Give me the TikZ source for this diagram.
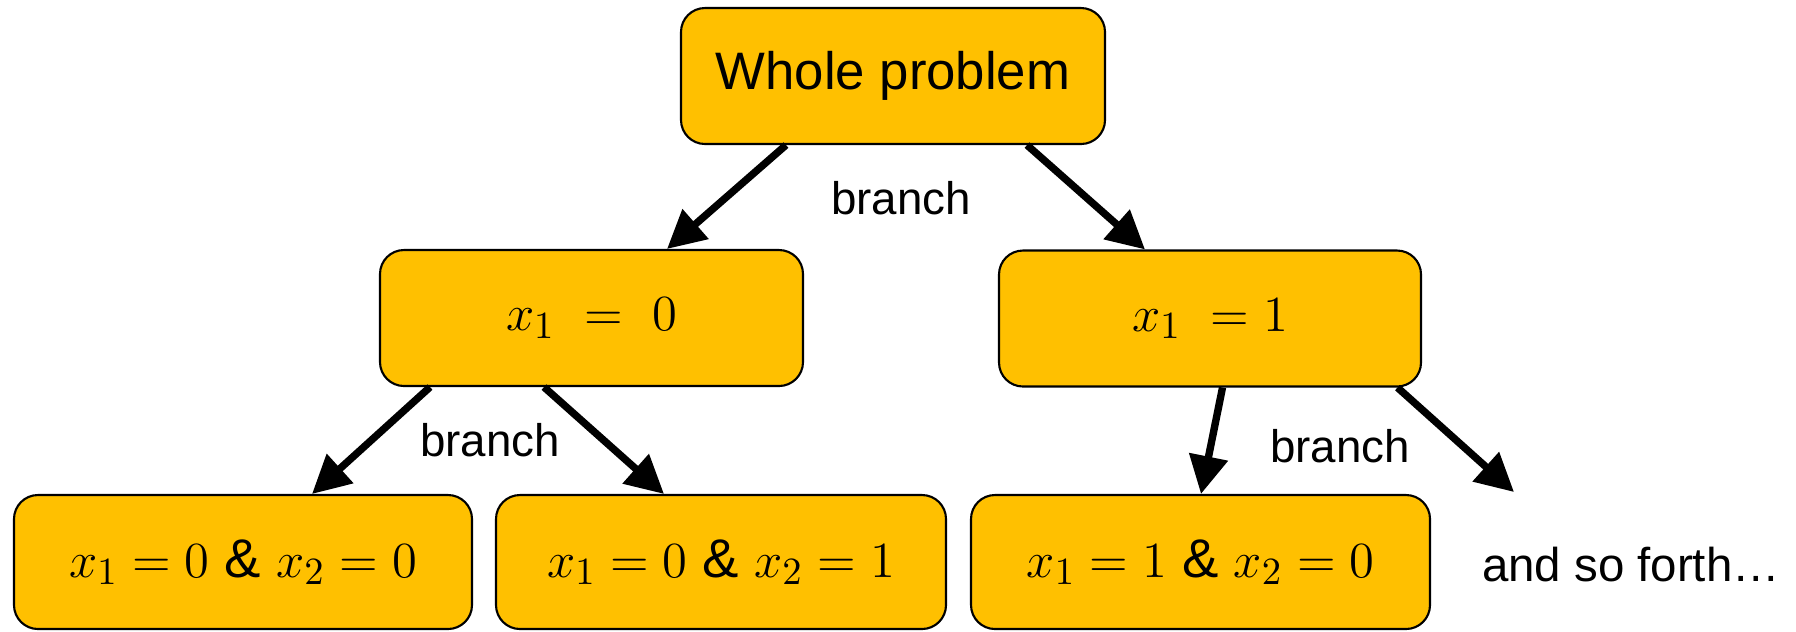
\documentclass[tikz,border=0pt]{standalone}
\usepackage{fontspec}
\setmainfont{Liberation Sans}
\usetikzlibrary{arrows.meta,positioning}

\begin{document}
\begin{tikzpicture}[>={Triangle[length=3.8mm,width=3.8mm]},
  box/.style={draw=black,line width=0.6pt,rounded corners=2.4mm,fill=gold,
              minimum height=1.36cm,minimum width=4.23cm,align=center},
  lab/.style={font=\fontsize{13}{15}\selectfont,inner sep=0pt},
  branch/.style={->,line width=2.1pt}]
\definecolor{gold}{HTML}{FFC000}
\useasboundingbox (0,0) rectangle (17.96,-6.31);

% ---- root ----
\node[box,minimum width=4.24cm,font=\fontsize{15}{18}\selectfont] (root) at (8.93,-0.76) {Whole problem};

% ---- first split on x1 ----
\node[box,font=\fontsize{15.5}{18}\selectfont] (zero) at (5.915,-3.18) {$x_1\ =\ 0$};
\node[box,minimum width=4.22cm,font=\fontsize{15.5}{18}\selectfont] (one) at (12.10,-3.185) {$x_1\ = 1$};

% ---- second split on x2 ----
\node[box,minimum width=4.58cm,minimum height=1.34cm,font=\fontsize{15.5}{18}\selectfont] (zz) at (2.43,-5.62) {$x_1 = 0\ \&\ x_2 = 0$};
\node[box,minimum width=4.50cm,minimum height=1.34cm,font=\fontsize{15.5}{18}\selectfont] (zo) at (7.21,-5.62) {$x_1 = 0\ \&\ x_2 = 1$};
\node[box,minimum width=4.59cm,minimum height=1.34cm,font=\fontsize{15.5}{18}\selectfont] (oz) at (12.005,-5.62) {$x_1 = 1\ \&\ x_2 = 0$};
\node[lab,font=\fontsize{13.5}{15}\selectfont] (rest) at (16.31,-5.65) {and so forth\ldots};
\coordinate (oo) at (15.14,-4.92);

% ---- branches ----
\draw[branch] ([xshift=-1.07cm]root.south) -- ([xshift=0.755cm]zero.north);
\draw[branch] ([xshift=1.34cm]root.south) -- ([xshift=-0.65cm]one.north);
\draw[branch] ([xshift=-1.615cm]zero.south) -- ([xshift=0.69cm]zz.north);
\draw[branch] ([xshift=-0.475cm]zero.south) -- ([xshift=-0.57cm]zo.north);
\draw[branch] ([xshift=0.125cm]one.south) -- ([xshift=0.005cm]oz.north);
\draw[branch] ([xshift=1.875cm]one.south) -- (oo);

\node[lab] (b1) at (9.01,-1.98) {branch};
\node[lab] (b2) at (4.90,-4.40) {branch};
\node[lab] (b3) at (13.40,-4.46) {branch};
\end{tikzpicture}
\end{document}
